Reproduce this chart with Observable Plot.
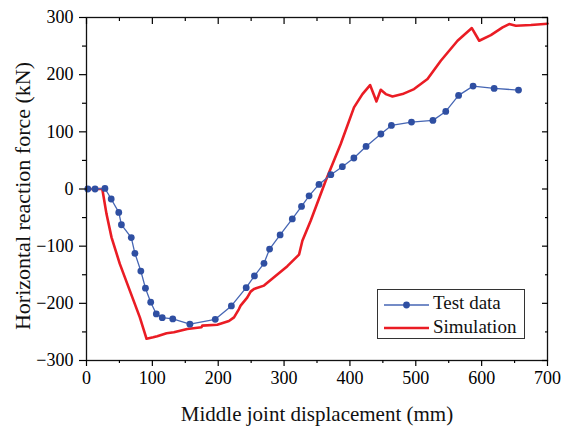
<!DOCTYPE html>
<html>
<head>
<meta charset="utf-8">
<script src="https://cdn.jsdelivr.net/npm/d3@7"></script>
<script src="https://cdn.jsdelivr.net/npm/@observablehq/plot@0.6"></script>
<style>
  html, body { margin: 0; padding: 0; background: white; }
  #wrap { position: relative; width: 567px; height: 428px; font-family: "Liberation Serif", "Times New Roman", serif; }
  #legend { position: absolute; left: 377px; top: 289px; width: 148px; height: 50px; border: 1px solid #333; background: white; box-sizing: border-box; }
  .lg { position: absolute; left: 0; height: 24px; width: 100%; }
  .lg svg { position: absolute; left: 5px; top: 0; }
  .lg span { position: absolute; left: 55px; top: 2px; font-size: 19px; line-height: 22px; color: #111; }
</style>
</head>
<body>
<div id="wrap"></div>
<script>
// Test data (Middle joint displacement mm, Horizontal reaction force kN)
const testX = [2, 13, 28, 37.5, 49, 53, 68, 73.5, 82.5, 89.5, 97.5, 106, 115, 131, 157, 195.5, 220, 242.5, 255, 269.5, 278, 294, 312.5, 326.5, 338, 353, 371, 388.5, 406, 424.5, 447, 463, 493.5, 526, 545.5, 565, 587, 619, 656];
const testY = [0, 0, 1, -17.5, -41, -62.5, -85, -112.5, -143.5, -173.5, -198, -218.6, -225, -227.3, -236.5, -228, -204.5, -172.6, -152, -130, -105, -80.4, -52.4, -30.4, -12, 8, 25, 39, 54.2, 74.5, 96.2, 111.2, 117, 120, 135.7, 163.7, 180, 176, 173];

// Simulation curve
const simX = [0, 24, 30.4, 38, 50.6, 65.8, 81, 91.2, 101.3, 107.4, 121.6, 132.7, 153, 174.6, 175.8, 198.6, 216.3, 224, 231.5, 234, 244, 249.2, 254.3, 269.5, 284.7, 305, 322.7, 327.8, 340.4, 363.2, 386, 406.2, 419, 430.6, 440.3, 446.8, 454.4, 464.6, 479.8, 497.4, 517.8, 538, 563.4, 585.1, 596.3, 614, 631.8, 641.8, 652, 674.8, 700];
const simY = [0, 0, -43.9, -84.6, -131, -177.8, -224.5, -262, -259.4, -257.5, -252.4, -250.7, -244.8, -241.9, -239, -237.5, -231, -224.5, -210, -204, -190, -179.5, -174.8, -169, -154.5, -135, -114.9, -90.4, -55.4, 14.5, 78.7, 142.7, 166, 181.8, 153.2, 173.6, 166, 161.9, 166, 174.8, 192.3, 224.3, 259.3, 281.5, 259.3, 269.3, 282.6, 288.5, 285.5, 286.8, 289];

const xTicks = [0, 100, 200, 300, 400, 500, 600, 700];
const xMinor = [50, 150, 250, 350, 450, 550, 650];
const yTicks = [-300, -200, -100, 0, 100, 200, 300];
const yMinor = [-250, -150, -50, 50, 150, 250];

const seriesNames = ["Test data", "Simulation"];
const xTitle = "Middle joint displacement (mm)";
const yTitle = "Horizontal reaction force (kN)";

const blueLine = "#4666b4";
const blueDot = "#2f4fa2";
const red = "#ea1c24";

const test = testX.map((x, i) => ({x, y: testY[i]}));
const sim = simX.map((x, i) => ({x, y: simY[i]}));
const none = () => "";

const chart = Plot.plot({
  width: 567,
  height: 428,
  marginLeft: 86,
  marginRight: 20,
  marginTop: 17,
  marginBottom: 68,
  style: {fontFamily: "'Liberation Serif', 'Times New Roman', serif", fontSize: "18px", color: "black", background: "white"},
  x: {domain: [0, 700]},
  y: {domain: [-300, 300]},
  marks: [
    Plot.line(sim, {x: "x", y: "y", stroke: red, strokeWidth: 2.6, curve: "linear"}),
    Plot.line(test, {x: "x", y: "y", stroke: blueLine, strokeWidth: 1.3}),
    Plot.dot(test, {x: "x", y: "y", r: 3.4, fill: blueDot, stroke: "none"}),
    Plot.frame({stroke: "#111", strokeWidth: 1.3}),
    Plot.axisX({ticks: xTicks, tickSize: 6, tickPadding: 5, label: null, strokeWidth: 1.2}),
    Plot.axisX({ticks: xMinor, tickSize: 3, tickFormat: none, label: null, strokeWidth: 1.2}),
    Plot.axisX({anchor: "top", ticks: xTicks, tickSize: -6, tickFormat: none, label: null, strokeWidth: 1.2}),
    Plot.axisX({anchor: "top", ticks: xMinor, tickSize: -3, tickFormat: none, label: null, strokeWidth: 1.2}),
    Plot.axisY({ticks: yTicks, tickSize: 7, tickPadding: 6, label: null, strokeWidth: 1.2}),
    Plot.axisY({ticks: yMinor, tickSize: 4, tickFormat: none, label: null, strokeWidth: 1.2}),
    Plot.axisY({anchor: "right", ticks: yTicks, tickSize: -6, tickFormat: none, label: null, strokeWidth: 1.2}),
    Plot.axisY({anchor: "right", ticks: yMinor, tickSize: -3, tickFormat: none, label: null, strokeWidth: 1.2}),
    Plot.text([xTitle], {frameAnchor: "bottom", dy: 60, fontSize: 21, fill: "#111"}),
    Plot.text([yTitle], {frameAnchor: "left", textAnchor: "middle", rotate: -90, dx: -64, dy: 7, fontSize: 22, fill: "#111"})
  ]
});

const wrap = document.getElementById("wrap");
wrap.appendChild(chart);

const legend = document.createElement("div");
legend.id = "legend";
const swatches = [
  `<svg width="48" height="24"><line x1="1" y1="15" x2="46" y2="15" stroke="${blueLine}" stroke-width="1.5"/><circle cx="23.5" cy="15" r="3.4" fill="${blueDot}"/></svg>`,
  `<svg width="48" height="24"><line x1="1" y1="14" x2="46" y2="14" stroke="${red}" stroke-width="2.6"/></svg>`
];
seriesNames.forEach((name, i) => {
  const row = document.createElement("div");
  row.className = "lg";
  row.style.top = (i * 24) + "px";
  row.innerHTML = swatches[i] + `<span>${name}</span>`;
  legend.appendChild(row);
});
wrap.appendChild(legend);
</script>
</body>
</html>
